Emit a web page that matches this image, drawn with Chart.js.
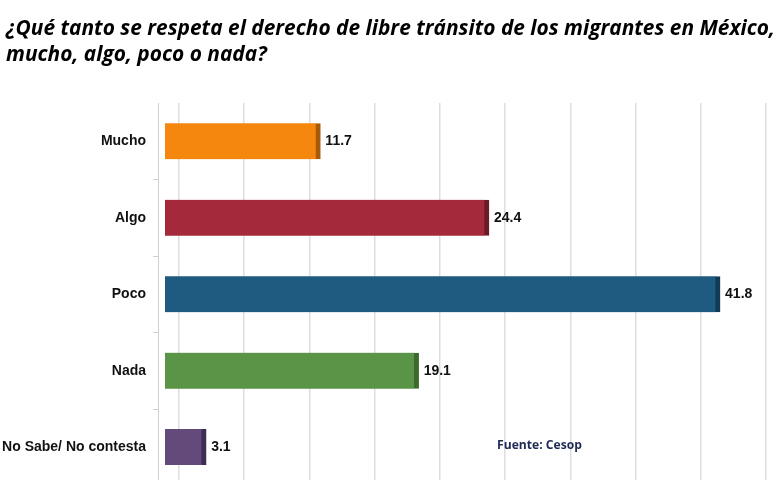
<!DOCTYPE html>
<html>
<head>
<meta charset="utf-8">
<script src="https://cdn.jsdelivr.net/npm/chart.js@4/dist/chart.umd.min.js"></script>
<style>
html,body{margin:0;padding:0;background:#fff;}
#wrap{width:780px;height:480px;position:relative;}
</style>
</head>
<body>
<div id="wrap"><canvas id="c" width="780" height="480"></canvas></div>
<script>
const titleLines = ["¿Qué tanto se respeta el derecho de libre tránsito de los migrantes en México,", "mucho, algo, poco o nada?"];
const categories = ["Mucho", "Algo", "Poco", "Nada", "No Sabe/ No contesta"];
const values = [11.7, 24.4, 41.8, 19.1, 3.1];
const barColors = ["#F5870E", "#A42A3B", "#1F5A80", "#5A9446", "#634A7B"];
const sideColors = ["#A85A08", "#6C1A25", "#123A55", "#3C6A2E", "#3F2C52"];
const sourceText = "Fuente: Cesop";

const decor = {
  id: 'decor',
  beforeDatasetsDraw(chart) {
    const ctx = chart.ctx, ca = chart.chartArea, y = chart.scales.y;
    ctx.save();
    ctx.strokeStyle = '#d0d0d0';
    ctx.lineWidth = 1;
    ctx.beginPath();
    ctx.moveTo(158.5, ca.top);
    ctx.lineTo(158.5, ca.bottom);
    for (let i = 0; i < categories.length - 1; i++) {
      const py = Math.round(y.getPixelForValue(i + 0.5)) + 0.5;
      ctx.moveTo(153, py);
      ctx.lineTo(158.5, py);
    }
    ctx.stroke();
    ctx.restore();
  },
  afterDraw(chart) {
    const ctx = chart.ctx;
    ctx.save();
    ctx.fillStyle = '#000';
    ctx.font = 'italic bold 21px "Open Sans"';
    const w = ctx.measureText(titleLines[0]).width;
    const sx = 769 / w;
    ctx.translate(6, 0);
    ctx.scale(sx, 1);
    ctx.textBaseline = 'alphabetic';
    ctx.fillText(titleLines[0], 0, 35);
    ctx.fillText(titleLines[1], 0, 61);
    ctx.restore();
    ctx.save();
    ctx.fillStyle = '#1F2A55';
    ctx.font = 'bold 12px "Open Sans"';
    ctx.textBaseline = 'middle';
    const w2 = ctx.measureText(sourceText).width;
    ctx.translate(497, 446);
    ctx.scale(85 / w2, 1);
    ctx.fillText(sourceText, 0, 0);
    ctx.restore();
    const meta = chart.getDatasetMeta(0);
    ctx.save();
    ctx.fillStyle = '#111';
    ctx.font = 'bold 14px "Liberation Sans"';
    ctx.textBaseline = 'middle';
    meta.data.forEach((bar, i) => {
      ctx.fillText(values[i].toFixed(1), bar.x + 5, bar.y);
    });
    ctx.restore();
  }
};

new Chart(document.getElementById('c'), {
  type: 'bar',
  data: {
    datasets: [{
      data: values.map((v, i) => ({x: v, y: i})),
      backgroundColor: barColors,
      borderColor: sideColors,
      borderWidth: {top: 0, left: 0, bottom: 0, right: 5},
      borderSkipped: false,
      barThickness: 36
    }]
  },
  options: {
    indexAxis: 'y',
    responsive: false,
    animation: false,
    layout: {padding: {top: 103, right: 10, bottom: 0, left: 0}},
    plugins: {legend: {display: false}, tooltip: {enabled: false}, title: {display: false}},
    scales: {
      x: {
        type: 'linear', min: 0, max: 45.56, offset: false, display: false
      },
      x2: {
        type: 'linear', min: -1.07, max: 45.3, position: 'bottom', offset: false,
        grid: {display: true, color: '#dedede', lineWidth: 1.5, drawTicks: false, tickLength: 0},
        border: {display: false},
        ticks: {display: false, stepSize: 5, padding: 0},
        afterBuildTicks(s) {
          const t = [];
          for (let v = 0; v <= 45; v += 5) t.push({value: v});
          s.ticks = t;
        },
        afterFit(s) { s.height = 0; }
      },
      y: {
        type: 'linear', reverse: true, min: -0.5, max: 4.43, offset: false,
        grid: {display: false}, border: {display: false},
        afterBuildTicks(s) {
          s.ticks = categories.map((c, i) => ({value: i}));
        },
        ticks: {
          padding: 11,
          color: '#111',
          font: {family: 'Liberation Sans', weight: 'bold', size: 14},
          callback: (v) => categories[v]
        },
        afterFit(s) { s.width = 165; s.paddingBottom = 0; s.paddingTop = 0; }
      }
    }
  },
  plugins: [decor]
});
</script>
</body>
</html>
